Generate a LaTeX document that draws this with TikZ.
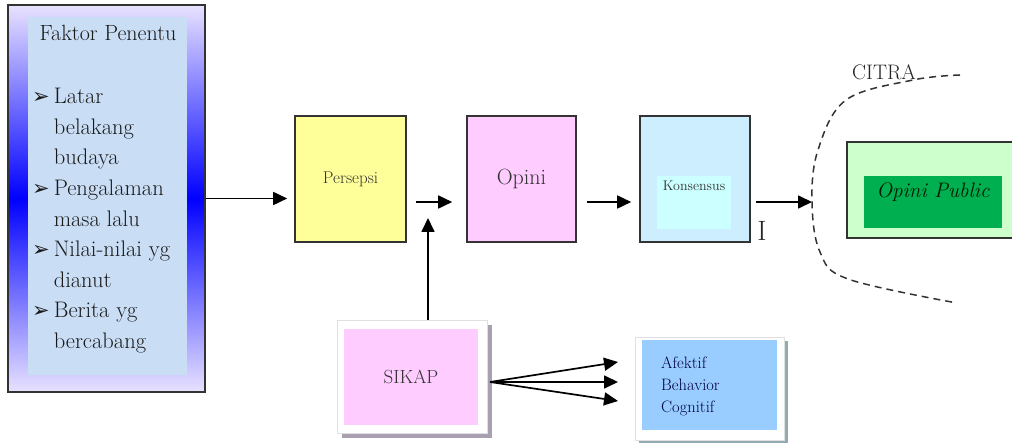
\documentclass[tikz,border=0pt]{standalone}
\usepackage{fontspec}
\newfontfamily\symfont{DejaVu Sans}
\usetikzlibrary{arrows.meta,shadows}

\definecolor{lembayung}{HTML}{E8E2FF}
\definecolor{isibiru}{HTML}{C9DDF5}
\definecolor{kuning}{HTML}{FFFF99}
\definecolor{jambon}{HTML}{FFCCFF}
\definecolor{birumuda}{HTML}{CCEEFF}
\definecolor{birupucat}{HTML}{CCFFFF}
\definecolor{hijaumuda}{HTML}{CCFFCC}
\definecolor{hijau}{HTML}{00B050}
\definecolor{langit}{HTML}{99CCFF}
\definecolor{bayangsikap}{HTML}{A89FB0}
\definecolor{bayangranah}{HTML}{93AAB3}
\definecolor{tinta}{HTML}{1A1A1A}

\tikzset{
  kotak/.style={draw=black!80, line width=1.6pt, inner sep=0pt},
  bingkai/.style={fill=white, draw=black!12, inner sep=0pt},
  panah/.style={-{Triangle[length=14pt,width=13pt]}, line width=1.7pt},
}

\begin{document}
\begin{tikzpicture}[x=1pt,y=-1pt]

  \newcommand\poin{{\symfont\fontsize{21}{21}\selectfont ➢}}

  \useasboundingbox (0,0) rectangle (1012,443);

  %% faktor penentu
  \node[kotak, minimum width=197pt, minimum height=387pt,
    top color=lembayung, bottom color=lembayung, middle color=blue]
    (faktor) at (106.5,198.5) {};
  \node[fill=isibiru, minimum width=159pt, minimum height=358pt, inner sep=0pt]
    (faktorisi) at (107.5,196) {};
  \node[font=\fontsize{22}{24}\selectfont, text=tinta] (judul) at (108,33) {Faktor Penentu};
  \node[anchor=north west, inner sep=0pt, font=\fontsize{22.5}{30.6}\selectfont, text=tinta]
    (daftar) at (32,82) {%
    \begin{tabular}{@{}l@{\hspace{4pt}}l@{}}
      \poin & Latar\\
            & belakang\\
            & budaya\\
      \poin & Pengalaman\\
            & masa lalu\\
      \poin & Nilai-nilai yg\\
            & dianut\\
      \poin & Berita yg\\
            & bercabang
    \end{tabular}};

  %% deret tengah
  \node[kotak, fill=kuning, minimum width=111pt, minimum height=126pt,
    font=\fontsize{17}{17}\selectfont, text=black!80] (persepsi) at (350.5,179) {Persepsi};
  \node[kotak, fill=jambon, minimum width=109pt, minimum height=126pt,
    font=\fontsize{22}{22}\selectfont, text=black!80] (opini) at (521.5,179) {Opini};
  \node[kotak, fill=birumuda, minimum width=110pt, minimum height=126pt]
    (konsensus) at (695,179) {};
  \node[fill=birupucat, minimum width=74pt, minimum height=53pt, inner sep=0pt]
    (konsensusisi) at (694,202.5) {};
  \node[font=\fontsize{14}{14}\selectfont, text=black!80] (konsensustxt) at (694,186) {Konsensus};
  \node[font=\fontsize{28}{28}\selectfont, text=black!85] (kursor) at (762,231) {I};

  \coordinate (baris) at (0,202);
  \coordinate (citra) at (812,202);
  \coordinate (temu) at (428,218);

  \draw[panah] (faktor.east) -- ([xshift=-7pt]faktor.east -| persepsi.west);
  \draw[panah] ([xshift=9pt]persepsi.east |- baris) -- ([xshift=-14pt]opini.west |- baris);
  \draw[panah] ([xshift=10pt]opini.east |- baris) -- ([xshift=-8pt]konsensus.west |- baris);
  \draw[panah] ([xshift=5pt]konsensus.east |- baris) -- (citra);

  %% citra
  \draw[dashed, dash pattern=on 7pt off 5pt, line width=1.5pt, black!80]
    plot[smooth, tension=0.6] coordinates {(960,75) (913,80) (846,100) (818,150)
      (812,202) (820,252) (848,279) (957,303)};
  \node[font=\fontsize{21}{21}\selectfont, text=black!85] (citratxt) at (884,72) {CITRA};

  \node[kotak, fill=hijaumuda, minimum width=173pt, minimum height=96pt]
    (publik) at (933.5,190) {};
  \node[fill=hijau, minimum width=138pt, minimum height=52pt, inner sep=0pt]
    (publikisi) at (933,202) {};
  \node[font=\fontsize{21}{21}\selectfont\itshape, text=black!90!green]
    (publiktxt) at (933,192) {Opini Public};

  %% sikap
  \node[bingkai, minimum width=150pt, minimum height=113pt,
    drop shadow={shadow xshift=5pt, shadow yshift=-5pt, fill=bayangsikap, opacity=1}]
    (sikap) at (412,376.5) {};
  \node[fill=jambon, minimum width=134pt, minimum height=96pt, inner sep=0pt,
    font=\fontsize{19}{19}\selectfont, text=black!80] (sikapisi) at (411,377) {SIKAP};

  \draw[panah] (sikap.north -| temu) -- (temu);

  %% ranah sikap
  \node[bingkai, minimum width=149pt, minimum height=103pt,
    drop shadow={shadow xshift=4pt, shadow yshift=-4pt, fill=bayangranah, opacity=1}]
    (ranah) at (709.5,388.5) {};
  \node[fill=langit, minimum width=135pt, minimum height=90pt, inner sep=0pt]
    (ranahisi) at (709.5,385) {};
  \node[anchor=west, align=left, inner sep=0pt, font=\fontsize{16.5}{22}\selectfont,
    text=black!75!blue] (ranahtxt) at (661,386) {Afektif\\ Behavior\\ Cognitif};

  \coordinate (pangkal) at (490,382);
  \coordinate (ujung1) at (618,362);
  \coordinate (ujung2) at (618,382);
  \coordinate (ujung3) at (618,401);
  \draw[panah] (pangkal) -- (ujung1);
  \draw[panah] (pangkal) -- (ujung2);
  \draw[panah] (pangkal) -- (ujung3);

\end{tikzpicture}
\end{document}
